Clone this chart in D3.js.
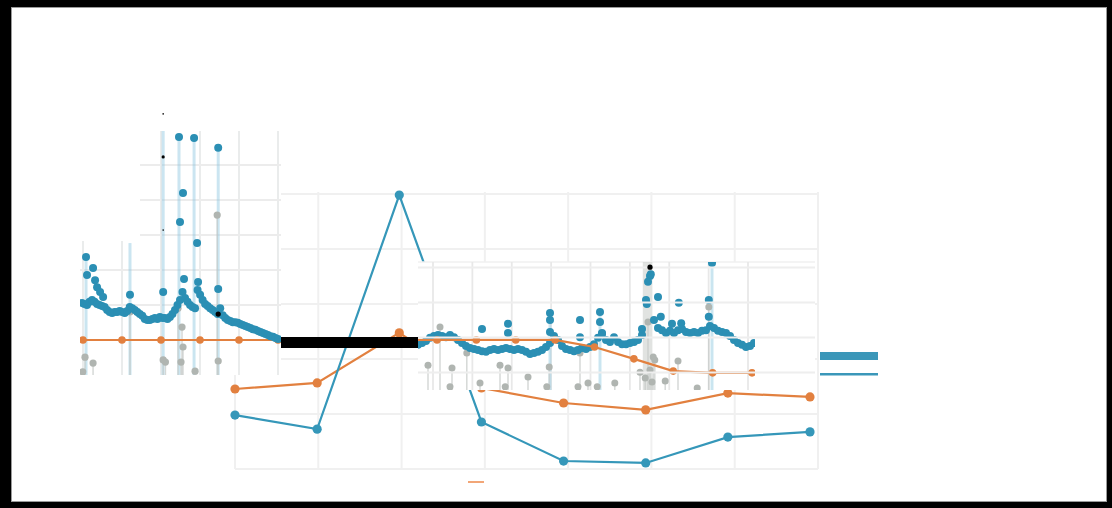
<!DOCTYPE html>
<html>
<head>
<meta charset="utf-8">
<script src="https://cdn.jsdelivr.net/npm/d3@7"></script>
<style>
  html, body { margin: 0; padding: 0; background: #000; }
  svg { display: block; }
</style>
</head>
<body>
<svg id="chart" width="1112" height="508"></svg>
<script>
"use strict";

// ---- background line chart ----
const lineCats = ['1', '2', '3', '4', '5', '6', '7', '8'];
const lineBlue = [19.6, 14.5, 99.6, 17.1, 2.9, 2.2, 11.6, 13.5];
const lineOrange = [29.1, 31.3, 49.5, 29.5, 24.0, 21.5, 27.6, 26.2];
const lineGridY = [0, 20, 40, 60, 80, 100];

// ---- left panel (dense series) ----
const leftBlue = [
  2.06, 2.03, 2.00, 2.09, 2.14, 2.09, 2.03, 2.00, 1.97, 1.94,
  1.86, 1.80, 1.77, 1.80, 1.80, 1.83, 1.80, 1.77, 1.83, 1.94,
  1.91, 1.86, 1.80, 1.74, 1.69, 1.60, 1.57, 1.57, 1.60, 1.63,
  1.60, 1.66, 1.63, 1.63, 1.60, 1.66, 1.74, 1.86, 2.00, 2.14,
  2.37, 2.20, 2.09, 2.00, 1.94, 1.91, 2.43, 2.29, 2.14, 2.03,
  1.97, 1.91, 1.86, 1.80, 1.74, 1.91, 1.71, 1.63, 1.57, 1.54,
  1.51, 1.51, 1.49, 1.46, 1.43, 1.40, 1.37, 1.34, 1.31, 1.29,
  1.26, 1.23, 1.20, 1.17, 1.14, 1.11, 1.09, 1.06, 1.03
];
const leftSpikes = [
  [1.6, 3.37], [2, 2.86], [4.4, 3.06], [5.2, 2.71], [6, 2.51], [7.2, 2.37], [8.4, 2.23],
  [19.1, 2.29], [32.3, 2.37], [38.6, 6.80], [39, 4.37], [40.2, 5.20], [40.6, 2.74],
  [44.6, 6.77], [45.8, 3.77], [46.2, 2.66], [54.2, 6.49], [54.2, 2.46]
];
const leftStems = [[1.6, 3.37], [19.1, 3.77], [32.3, 7.1], [38.6, 6.8], [44.6, 6.77], [54.2, 6.49]];
const leftGrey = [
  [1.2, 0.51], [4.4, 0.34], [0.3, 0.09], [19.1, 1.80], [32.3, 0.43], [33.2, 0.37],
  [38.2, 1.91], [39.8, 1.37], [40.2, 0.80], [39.4, 0.37], [45, 0.11], [53.8, 4.57], [54.2, 0.40]
];
const leftOrange = [1, 1, 1, 1, 1, 1];
const leftGridY = [1, 2, 3, 4, 5, 6];
const leftMarks = [[54.2, 1.74, 2.6], [32.3, 6.23, 1.6], [32.3, 7.46, 0.8], [32.3, 4.14, 0.8]];

// ---- middle panel (dense series) ----
const midBlue = [
  1.29, 1.34, 1.40, 1.49, 1.54, 1.57, 1.54, 1.51, 1.57, 1.51,
  1.43, 1.34, 1.26, 1.20, 1.17, 1.14, 1.11, 1.09, 1.14, 1.17,
  1.14, 1.17, 1.20, 1.17, 1.14, 1.17, 1.14, 1.09, 1.03, 1.06,
  1.09, 1.14, 1.23, 1.34, 1.54, 1.43, 1.26, 1.17, 1.14, 1.11,
  1.14, 1.20, 1.17, 1.23, 1.31, 1.49, 1.60, 1.43, 1.37, 1.51,
  1.37, 1.31, 1.31, 1.34, 1.37, 1.43, 1.57, 2.57, 3.26, 2.00,
  1.77, 1.71, 1.63, 1.69, 1.63, 1.71, 1.74, 1.66, 1.63, 1.66,
  1.63, 1.69, 1.71, 1.83, 1.77, 1.69, 1.66, 1.63, 1.54, 1.43,
  1.34, 1.29, 1.23, 1.26, 1.34
];
const midSpikes = [
  [16, 1.74], [22.5, 1.89], [22.5, 1.63], [33, 2.20], [33, 2.00], [33, 1.66],
  [40.5, 2.00], [40.5, 1.51], [45.5, 2.23], [45.5, 1.94], [46, 1.63],
  [56, 1.74], [57.2, 2.46], [57.5, 3.09], [58.2, 3.31], [60, 2.66], [60.7, 2.09],
  [63.5, 1.89], [65.2, 2.49], [65.8, 1.91], [72.7, 2.57], [72.7, 2.09], [73.5, 3.63]
];
const midStems = [[33, 2.2], [45.5, 2.23], [73.5, 3.63]];
const midBand = [56.2, 58.6];
const midGrey = [
  [5.5, 1.80], [2.5, 0.71], [8.5, 0.63], [8, 0.09], [12.2, 1.06], [15.5, 0.20],
  [20.5, 0.71], [22.5, 0.63], [21.8, 0.09], [27.5, 0.37], [32.8, 0.66], [32.2, 0.09],
  [40.5, 1.06], [40, 0.09], [42.5, 0.20], [44.8, 0.09], [49.2, 0.20], [55.5, 0.51],
  [56.8, 0.34], [58.8, 0.94], [59.2, 0.86], [58, 0.57], [58.5, 0.23], [61.8, 0.26],
  [65, 0.83], [57.5, 1.94], [69.8, 0.06], [72.7, 2.37]
];
const midOrange = [1.43, 1.43, 1.43, 1.43, 1.23, 0.89, 0.54, 0.49, 0.49];
const midGridY = [0.5, 1.5, 2.5, 3.5];
const midMarks = [[58, 3.51, 2.6]];

const BLUE = '#2b8fb4';
const LINE_BLUE = '#3597b9';
const ORANGE = '#e2803f';
const GREY = '#b0b5b1';
const GRID = '#f0f0f0';

const svg = d3.select('#chart');

// frame
svg.append('rect').attr('width', 1112).attr('height', 508).attr('fill', '#000');
svg.append('rect')
  .attr('x', 11.5).attr('y', 7.5).attr('width', 1095).attr('height', 494)
  .attr('fill', '#fff').attr('stroke', '#9a9a9a').attr('stroke-width', 1);

// ---------- background line chart ----------
let x = d3.scalePoint().domain(lineCats).range([235, 810]);
let gx = d3.scaleLinear().domain([0, 7]).range([235, 818]);
let y = d3.scaleLinear().domain([0, 100]).range([469, 194]);

let bg = svg.append('g');
bg.selectAll('.vg').data(d3.range(8)).enter().append('line')
  .attr('x1', d => gx(d)).attr('x2', d => gx(d))
  .attr('y1', y(100) - 2).attr('y2', y(0))
  .attr('stroke', GRID).attr('stroke-width', 2);
bg.selectAll('.hg').data(lineGridY).enter().append('line')
  .attr('x1', gx(0)).attr('x2', gx(7))
  .attr('y1', d => y(d)).attr('y2', d => y(d))
  .attr('stroke', GRID).attr('stroke-width', 2);

function drawLine(g, values, color) {
  let data = values.map((v, i) => [lineCats[i], v]);
  g.append('path').datum(data)
    .attr('fill', 'none').attr('stroke', color).attr('stroke-width', 2.2)
    .attr('d', d3.line().x(d => x(d[0])).y(d => y(d[1])));
  g.selectAll(null).data(data).enter().append('circle')
    .attr('cx', d => x(d[0])).attr('cy', d => y(d[1])).attr('r', 4.6)
    .attr('fill', color);
}
drawLine(bg, lineOrange, ORANGE);
drawLine(bg, lineBlue, LINE_BLUE);

// ---------- left panel ----------
let lx = d3.scaleLinear().domain([0, leftBlue.length - 1]).range([82, 278]);
let lox = d3.scaleLinear().domain([0, leftOrange.length - 1]).range([83, 278]);
let ly = d3.scaleLinear().domain([0, 7]).range([375, 130]);

let leftRects = [[80, 241, 62, 134], [140, 131, 141, 244]];
let defs = svg.append('defs');
let lclip = defs.append('clipPath').attr('id', 'lclip');
leftRects.forEach(r => lclip.append('rect').attr('x', r[0]).attr('y', r[1]).attr('width', r[2]).attr('height', r[3]));

let left = svg.append('g');
leftRects.forEach(r => left.append('rect').attr('x', r[0]).attr('y', r[1]).attr('width', r[2]).attr('height', r[3]).attr('fill', '#fff'));
let lc = left.append('g').attr('clip-path', 'url(#lclip)');

lc.selectAll('.vg').data(d3.range(leftOrange.length)).enter().append('line')
  .attr('x1', d => lox(d)).attr('x2', d => lox(d))
  .attr('y1', ly(7)).attr('y2', ly(0))
  .attr('stroke', '#e8eaea').attr('stroke-width', 1.8);
lc.selectAll('.hg').data(leftGridY).enter().append('line')
  .attr('x1', 80).attr('x2', 281)
  .attr('y1', d => ly(d)).attr('y2', d => ly(d))
  .attr('stroke', '#ececec').attr('stroke-width', 1.8);

lc.selectAll('.stem').data(leftStems).enter().append('line')
  .attr('x1', d => lx(d[0])).attr('x2', d => lx(d[0]))
  .attr('y1', d => ly(d[1])).attr('y2', ly(0))
  .attr('stroke', '#8cc6df').attr('stroke-width', 3).attr('opacity', 0.45);
lc.selectAll('.gstem').data(leftGrey).enter().append('line')
  .attr('x1', d => lx(d[0])).attr('x2', d => lx(d[0]))
  .attr('y1', d => ly(d[1])).attr('y2', ly(0))
  .attr('stroke', '#c4c8c6').attr('stroke-width', 1.5).attr('opacity', 0.7);
lc.selectAll('.grey').data(leftGrey).enter().append('circle')
  .attr('cx', d => lx(d[0])).attr('cy', d => ly(d[1])).attr('r', 3.6)
  .attr('fill', GREY);

lc.append('path').datum(leftOrange)
  .attr('fill', 'none').attr('stroke', ORANGE).attr('stroke-width', 2.2)
  .attr('d', d3.line().x((d, i) => lox(i)).y(d => ly(d)));
lc.selectAll('.od').data(leftOrange).enter().append('circle')
  .attr('cx', (d, i) => lox(i)).attr('cy', d => ly(d)).attr('r', 3.8)
  .attr('fill', ORANGE);

lc.selectAll('.bd').data(leftBlue).enter().append('circle')
  .attr('cx', (d, i) => lx(i)).attr('cy', d => ly(d)).attr('r', 4)
  .attr('fill', BLUE);
lc.selectAll('.sp').data(leftSpikes).enter().append('circle')
  .attr('cx', d => lx(d[0])).attr('cy', d => ly(d[1])).attr('r', 4)
  .attr('fill', BLUE);
svg.selectAll('.lmk').data(leftMarks).enter().append('circle')
  .attr('cx', d => lx(d[0])).attr('cy', d => ly(d[1])).attr('r', d => d[2])
  .attr('fill', '#000');

// ---------- middle panel ----------
let mx = d3.scaleLinear().domain([0, midBlue.length - 1]).range([418, 754]);
let mox = d3.scaleLinear().domain([0, midOrange.length - 1]).range([437, 752]);
let my = d3.scaleLinear().domain([0, 125 / 35]).range([390, 265]);

let mid = svg.append('g');
mid.append('rect').attr('x', 418).attr('y', 262).attr('width', 337).attr('height', 128).attr('fill', '#fff');
mid.append('rect').attr('x', 755).attr('y', 262).attr('width', 60).attr('height', 123).attr('fill', '#fff');
mid.append('line').attr('x1', 418).attr('x2', 815).attr('y1', 262).attr('y2', 262)
  .attr('stroke', '#f0f0f0').attr('stroke-width', 1.5);
defs.append('clipPath').attr('id', 'mclip')
  .append('rect').attr('x', 418).attr('y', 262).attr('width', 337).attr('height', 128);
let mc = mid.append('g').attr('clip-path', 'url(#mclip)');

mid.selectAll('.hg').data(midGridY).enter().append('line')
  .attr('x1', 418).attr('x2', 815)
  .attr('y1', d => my(d)).attr('y2', d => my(d))
  .attr('stroke', '#eeeeee').attr('stroke-width', 1.8);
mc.selectAll('.vg').data(d3.range(midOrange.length)).enter().append('line')
  .attr('x1', d => mox(d) - 4).attr('x2', d => mox(d) - 4)
  .attr('y1', 262).attr('y2', 390)
  .attr('stroke', '#e8e8e8').attr('stroke-width', 1.8);

mc.append('rect')
  .attr('x', mx(midBand[0])).attr('width', mx(midBand[1]) - mx(midBand[0]))
  .attr('y', 262).attr('height', 128)
  .attr('fill', '#c8ccc9').attr('opacity', 0.55);
mc.selectAll('.stem').data(midStems).enter().append('line')
  .attr('x1', d => mx(d[0])).attr('x2', d => mx(d[0]))
  .attr('y1', d => my(d[1])).attr('y2', my(0))
  .attr('stroke', '#8cc6df').attr('stroke-width', 3).attr('opacity', 0.45);
mc.selectAll('.gstem').data(midGrey).enter().append('line')
  .attr('x1', d => mx(d[0])).attr('x2', d => mx(d[0]))
  .attr('y1', d => my(d[1])).attr('y2', my(0))
  .attr('stroke', '#c4c8c6').attr('stroke-width', 1.5).attr('opacity', 0.7);
mc.selectAll('.grey').data(midGrey).enter().append('circle')
  .attr('cx', d => mx(d[0])).attr('cy', d => my(d[1])).attr('r', 3.5)
  .attr('fill', GREY);

mc.selectAll('.bd').data(midBlue).enter().append('circle')
  .attr('cx', (d, i) => mx(i)).attr('cy', d => my(d)).attr('r', 4)
  .attr('fill', BLUE);
mc.selectAll('.sp').data(midSpikes).enter().append('circle')
  .attr('cx', d => mx(d[0])).attr('cy', d => my(d[1])).attr('r', 4)
  .attr('fill', BLUE);

mc.append('path').datum(midOrange)
  .attr('fill', 'none').attr('stroke', ORANGE).attr('stroke-width', 2.2)
  .attr('d', d3.line().x((d, i) => mox(i)).y(d => my(d)));
mc.append('line')
  .attr('x1', 418).attr('x2', mox(0)).attr('y1', my(midOrange[0])).attr('y2', my(midOrange[0]))
  .attr('stroke', ORANGE).attr('stroke-width', 2.2);
mc.selectAll('.od').data(midOrange).enter().append('circle')
  .attr('cx', (d, i) => mox(i)).attr('cy', d => my(d)).attr('r', 3.8)
  .attr('fill', ORANGE);
svg.selectAll('.mmk').data(midMarks).enter().append('circle')
  .attr('cx', d => mx(d[0])).attr('cy', d => my(d[1])).attr('r', d => d[2])
  .attr('fill', '#000');

// black bar joining the two panels
svg.append('rect')
  .attr('x', lx.range()[1] + 3).attr('y', 337)
  .attr('width', mx.range()[0] - lx.range()[1] - 3).attr('height', 11)
  .attr('fill', '#000');

// legend fragments
let legend = svg.append('g').attr('transform', 'translate(820,352)');
legend.append('rect').attr('width', 58).attr('height', 8).attr('fill', '#3b97b9');
legend.append('rect').attr('y', 21).attr('width', 58).attr('height', 2.5).attr('fill', '#3b97b9');
svg.append('rect').attr('x', 468).attr('y', 481).attr('width', 16).attr('height', 2)
  .attr('fill', '#f2a677');
</script>
</body>
</html>
